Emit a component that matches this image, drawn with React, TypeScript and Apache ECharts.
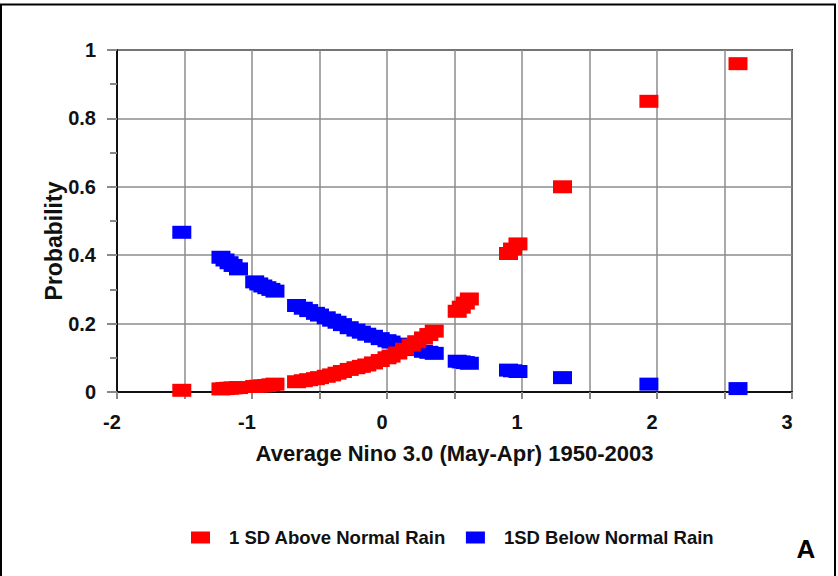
import React, { useEffect, useRef } from "react";
import * as echarts from "echarts";

const nino: number[] = [
  -1.52, -1.23, -1.2, -1.17, -1.14, -1.1, -0.98, -0.95, -0.92, -0.89, -0.86, -0.83,
  -0.67, -0.62, -0.58, -0.53, -0.5, -0.45, -0.41, -0.37, -0.33, -0.28, -0.23, -0.19,
  -0.15, -0.1, -0.05, 0.0, 0.03, 0.08, 0.13, 0.18, 0.22, 0.27, 0.31, 0.35,
  0.52, 0.55, 0.58, 0.61, 0.9, 0.93, 0.97, 1.3, 1.94, 2.6,
];
const aboveNormal: number[] = [
  0.005, 0.009, 0.01, 0.011, 0.012, 0.013, 0.016, 0.017, 0.018, 0.019, 0.021, 0.023,
  0.03, 0.033, 0.036, 0.039, 0.042, 0.046, 0.05, 0.055, 0.06, 0.066, 0.071, 0.075,
  0.079, 0.085, 0.092, 0.1, 0.105, 0.114, 0.125, 0.137, 0.147, 0.158, 0.168, 0.178,
  0.236, 0.248, 0.26, 0.272, 0.405, 0.418, 0.433, 0.6, 0.85, 0.96,
];
const belowNormal: number[] = [
  0.467, 0.394, 0.386, 0.378, 0.37, 0.36, 0.322, 0.316, 0.31, 0.305, 0.3, 0.295,
  0.253, 0.245, 0.238, 0.23, 0.225, 0.217, 0.21, 0.204, 0.197, 0.188, 0.181, 0.175,
  0.169, 0.163, 0.156, 0.15, 0.146, 0.14, 0.134, 0.128, 0.124, 0.119, 0.116, 0.113,
  0.09, 0.088, 0.086, 0.084, 0.064, 0.062, 0.06, 0.042, 0.023, 0.01,
];
const seriesNames: string[] = ["1 SD Above Normal Rain", "1SD Below Normal Rain"];
const xTitle = "Average Nino 3.0 (May-Apr) 1950-2003";
const yTitle = "Probability";
const panelLabel = "A";

const FONT = '"Liberation Sans", Arial, sans-serif';

export default function App() {
  const ref = useRef<HTMLDivElement>(null);
  useEffect(() => {
    document.body.style.margin = "0";
    if (!ref.current) return;
    const chart = echarts.init(ref.current, null, { renderer: "svg" });
    const toPairs = (ys: number[]) => nino.map((x, i) => [x, ys[i]]);
    chart.setOption({
      animation: false,
      backgroundColor: "#fff",
      textStyle: { fontFamily: FONT },
      grid: {
        left: 117,
        right: 46,
        top: 50,
        bottom: 184,
        show: true,
        borderColor: "#333",
        borderWidth: 2,
      },
      legend: {
        left: 191,
        top: 528,
        padding: 0,
        icon: "rect",
        itemWidth: 19,
        itemHeight: 12,
        itemGap: 20,
        textStyle: {
          fontFamily: FONT,
          fontSize: 18.5,
          fontWeight: "bold",
          color: "#111",
          padding: [0, 0, 0, 14],
        },
        data: seriesNames,
      },
      xAxis: {
        type: "value",
        min: -2,
        max: 3,
        interval: 0.5,
        name: xTitle,
        nameLocation: "middle",
        nameGap: 50,
        nameTextStyle: { fontFamily: FONT, fontSize: 22, fontWeight: "bold", color: "#111" },
        axisLine: { show: true, onZero: false, lineStyle: { color: "#111", width: 2 } },
        axisTick: { show: true, length: 7, lineStyle: { color: "#888", width: 2 } },
        axisLabel: {
          margin: 20,
          fontFamily: FONT,
          fontSize: 20,
          fontWeight: "bold",
          color: "#111",
          padding: [0, 10, 0, 0],
          showMinLabel: true,
          showMaxLabel: true,
          formatter: (v: number) => (Math.abs(v - Math.round(v)) < 1e-9 ? String(Math.round(v)) : ""),
        },
        splitLine: { show: true, lineStyle: { color: "#8c8c8c", width: 1.5 } },
      },
      yAxis: {
        type: "value",
        min: 0,
        max: 1,
        interval: 0.2,
        axisLine: { show: true, onZero: false, lineStyle: { color: "#111", width: 2 } },
        axisTick: { show: true, length: 10, lineStyle: { color: "#888", width: 2 } },
        minorTick: { show: true, splitNumber: 2, length: 7, lineStyle: { color: "#888", width: 2 } },
        axisLabel: {
          margin: 21,
          fontFamily: FONT,
          fontSize: 20,
          fontWeight: "bold",
          color: "#111",
        },
        splitLine: { show: true, lineStyle: { color: "#8c8c8c", width: 1.5 } },
      },
      series: [
        {
          name: seriesNames[0],
          type: "scatter",
          symbol: "rect",
          symbolSize: [19, 13],
          itemStyle: { color: "#ff0000", opacity: 1 },
          z: 3,
          data: toPairs(aboveNormal),
        },
        {
          name: seriesNames[1],
          type: "scatter",
          symbol: "rect",
          symbolSize: [19, 13],
          itemStyle: { color: "#0000ff", opacity: 1 },
          z: 2,
          data: toPairs(belowNormal),
        },
      ],
      graphic: [
        {
          type: "rect",
          shape: { x: 1, y: 4.5, width: 834, height: 600 },
          style: { fill: "none", stroke: "#000", lineWidth: 2 },
          silent: true,
        },
        {
          type: "text",
          x: 54,
          y: 241,
          rotation: Math.PI / 2,
          style: {
            text: yTitle,
            fontFamily: FONT,
            fontSize: 23,
            fontWeight: "bold",
            fill: "#111",
            align: "center",
            verticalAlign: "middle",
          },
        },
        {
          type: "text",
          x: 806,
          y: 549,
          style: {
            text: panelLabel,
            fontFamily: FONT,
            fontSize: 26,
            fontWeight: "bold",
            fill: "#000",
            align: "center",
            verticalAlign: "middle",
          },
        },
      ],
    });
    return () => chart.dispose();
  }, []);
  return <div ref={ref} style={{ width: 838, height: 576 }} />;
}
